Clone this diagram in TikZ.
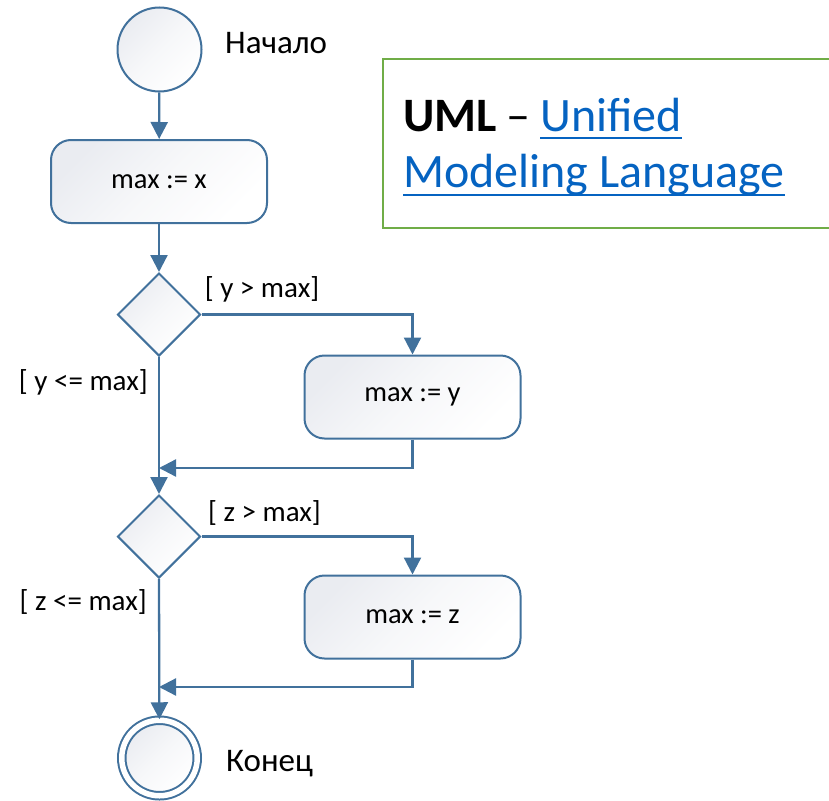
\documentclass[tikz,border=0pt]{standalone}
\usepackage{fontspec}
\setmainfont{Carlito}
\usetikzlibrary{shapes.geometric,arrows.meta,positioning,calc}
\definecolor{flow}{RGB}{65,113,156}
\definecolor{shadegray}{RGB}{234,236,241}
\definecolor{notegreen}{RGB}{112,173,71}
\definecolor{linkblue}{RGB}{5,99,193}
\tikzset{
  x=1pt, y=-1pt,
  shadedfill/.style={top color=shadegray, bottom color=white, middle color=white!60!shadegray, shading angle=45},
  actionbox/.style={draw=flow, line width=2pt, rounded corners=20pt, shadedfill,
    minimum width=216pt, minimum height=83pt, inner sep=0pt,
    font=\fontsize{28.5}{34}\selectfont},
  decision/.style={draw=flow, line width=2pt, diamond, aspect=1, shadedfill,
    minimum width=83pt, minimum height=83pt, inner sep=0pt},
  initial/.style={draw=flow, line width=2pt, circle, shadedfill,
    minimum size=84pt, inner sep=0pt},
  final/.style={draw=flow, line width=2pt, circle, double, double distance=5.5pt,
    shadedfill, minimum size=75.5pt, inner sep=0pt},
  guard/.style={inner sep=0pt, font=\fontsize{29}{34}\selectfont},
  caption/.style={inner sep=0pt, font=\fontsize{33}{38}\selectfont},
  notetext/.style={inner sep=0pt, font=\fontsize{48}{56}\selectfont},
  flowline/.style={draw=flow, line width=2.3pt, -{Triangle[length=17pt,width=17pt]}},
}
\begin{document}
\begin{tikzpicture}
\useasboundingbox (0,0) rectangle (829,800);

% activity nodes
\node[initial] (start) at (159.5,49.5) {};
\node[actionbox] (setx) at (159,181.5) {max := x};
\node[decision] (d1) at (159,314.5) {};
\node[actionbox] (sety) at (412.5,397) {max := y};
\node[decision] (d2) at (159,536.5) {};
\node[actionbox] (setz) at (412.5,617) {max := z};
\node[final] (stop) at (159.5,758) {};

% merge points on the main line
\coordinate (m1) at (159,468);
\coordinate (m2) at (159,687);

% captions and guards
\node[caption, anchor=base west] (startlbl) at (225,53) {Начало};
\node[caption, anchor=base west] (stoplbl) at (226,771) {Конец};
\node[guard] (gy1) at (262,289) {[ y > max]};
\node[guard, anchor=east] (gy2) at (148,382) {[ y <= max]};
\node[guard] (gz1) at (264.5,513) {[ z > max]};
\node[guard, anchor=east] (gz2) at (147,602) {[ z <= max]};

% connectors
\draw[flowline] (start) -- (setx);
\draw[flowline] (setx) -- (d1);
\draw[flowline] (d1.east) -| (sety.north);
\draw[flowline] (sety.south) |- (m1);
\draw[flowline] (d1.south) -- (d2.north);
\draw[flowline] (d2.east) -| (setz.north);
\draw[flowline] (setz.south) |- (m2);
\draw[flowline] (d2.south) -- (stop);

% note frame
\draw[notegreen, line width=2.5pt] (835,59) -| (383,228) -- (835,228);
\node[notetext, anchor=base west] (uml) at (403,131) {\bfseries UML};
\node[notetext, anchor=base east, text=linkblue] (unified) at (682,131) {Unified};
\node[notetext, anchor=base] (dash) at ($(uml.base east)!0.5!(unified.base west)$) {–};
\node[notetext, anchor=base west, text=linkblue] (lang) at (403,187) {Modeling Language};
\draw[linkblue, line width=2.5pt] ([yshift=-7pt]unified.base west) -- ([yshift=-7pt]unified.base east);
\draw[linkblue, line width=2.5pt] ([yshift=-8pt]lang.base west) -- ([yshift=-8pt]lang.base east);
\end{tikzpicture}
\end{document}
